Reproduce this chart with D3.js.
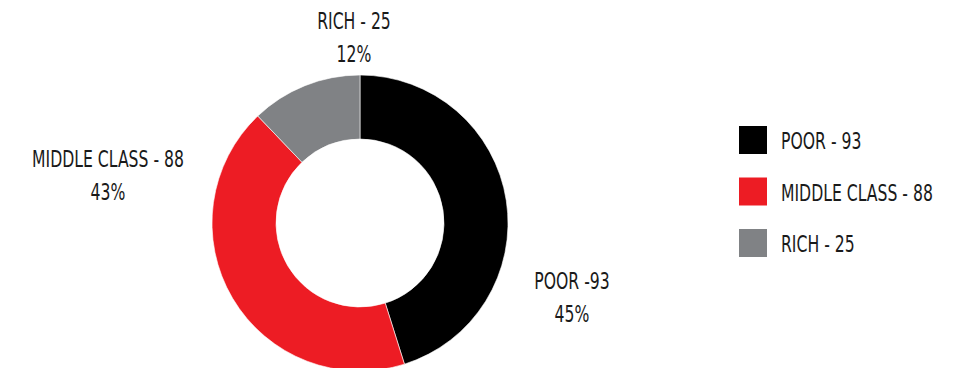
<!DOCTYPE html>
<html>
<head>
<meta charset="utf-8">
<script src="https://cdn.jsdelivr.net/npm/d3@7"></script>
<style>
  html, body { margin: 0; padding: 0; background: #fff; }
  svg { display: block; }
  text { font-family: "Liberation Sans Narrow", "DejaVu Sans Condensed", "Liberation Sans", sans-serif; fill: #1a1a1a; }
</style>
</head>
<body>
<svg id="chart" width="970" height="368"></svg>
<script>
// Household groups and counts
const categories = ["POOR", "MIDDLE CLASS", "RICH"];
const values = [93, 88, 25];
const colors = ["#000000", "#ed1c24", "#808285"];
// Slice label first lines (as printed beside the ring)
const sliceLabels = ["POOR -93", "MIDDLE CLASS - 88", "RICH - 25"];
const legendLabels = ["POOR - 93", "MIDDLE CLASS - 88", "RICH - 25"];

const W = 970, H = 368;
const cx = 360, cy = 223, outerR = 148, innerR = 84;
const fontSize = 23;
// label anchor offsets from ring centre (x of text centre, baseline of first line)
const labelOffsets = [[212, 66], [-252, -56], [-6, -194]];

const svg = d3.select("#chart");
const total = d3.sum(values);
const data = categories.map((c, i) => ({ name: c, value: values[i], color: colors[i], label: sliceLabels[i], legend: legendLabels[i] }));

const pie = d3.pie().value(d => d.value).sort(null);
const arc = d3.arc().innerRadius(innerR).outerRadius(outerR);

const g = svg.append("g").attr("transform", `translate(${cx},${cy})`);
g.selectAll("path.slice")
  .data(pie(data))
  .join("path")
  .attr("class", "slice")
  .attr("d", arc)
  .attr("fill", d => d.data.color)
  .attr("stroke", "#fff")
  .attr("stroke-width", 0.6);

const pct = d3.format(".0%");

// Condense the text horizontally so it reads as a narrow face
function condense(sel, targetWidthFor) {
  sel.each(function () {
    const t = d3.select(this);
    const w = this.getComputedTextLength();
    t.attr("data-w", w);
  });
}

const labelG = g.selectAll("g.lbl")
  .data(pie(data))
  .join("g")
  .attr("class", "lbl")
  .attr("transform", (d, i) => `translate(${labelOffsets[i][0]},${labelOffsets[i][1]})`);

labelG.append("text")
  .attr("class", "l1")
  .attr("text-anchor", "middle")
  .attr("font-size", fontSize)
  .text(d => d.data.label);
labelG.append("text")
  .attr("class", "l2")
  .attr("text-anchor", "middle")
  .attr("y", 33)
  .attr("font-size", fontSize)
  .text(d => pct(d.data.value / total));

// Legend
const legend = svg.append("g").attr("transform", "translate(739,126)");
const item = legend.selectAll("g")
  .data(data)
  .join("g")
  .attr("transform", (d, i) => `translate(0,${i * 51.5})`);
item.append("rect").attr("width", 28).attr("height", 28).attr("fill", d => d.color);
item.append("text")
  .attr("x", 42).attr("y", 23)
  .attr("font-size", fontSize)
  .text(d => d.legend);

// horizontal squeeze factor: width of the longest string set to 152px
const ref = svg.append("text").attr("font-size", fontSize).text("MIDDLE CLASS - 88");
const k = 152 / ref.node().getComputedTextLength();
ref.remove();
svg.selectAll("text").each(function () {
  const t = d3.select(this);
  const x = +t.attr("x") || 0, y = +t.attr("y") || 0;
  t.attr("x", null).attr("y", null)
   .attr("transform", `translate(${x},${y}) scale(${k},1)`);
});
</script>
</body>
</html>
